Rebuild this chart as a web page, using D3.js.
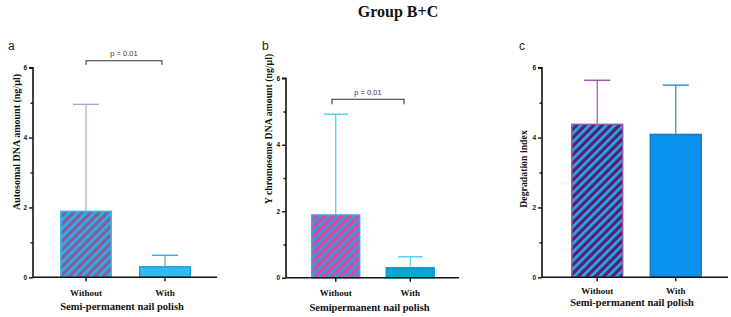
<!DOCTYPE html>
<html><head><meta charset="utf-8">
<script src="https://cdn.jsdelivr.net/npm/d3@7"></script>
<style>body{margin:0;background:#fff;}svg{display:block;}</style>
</head><body>
<svg id="c" width="731" height="317"></svg>
<script>
const categories = ["Without", "With"];
const autosomalMeans = [1.91, 0.32];
const autosomalSD = [4.95, 0.63];
const yChromMeans = [1.91, 0.32];
const yChromSD = [4.92, 0.63];
const degradationMeans = [4.40, 4.11];
const degradationSD = [5.64, 5.50];
const yTicks = [0, 2, 4, 6];
const pValues = ["p = 0.01", "p = 0.01", null];

const panels = [
  {letter:"a", means:autosomalMeans, tops:autosomalSD, ytitle:"Autosomal DNA amount (ng/µl)", xtitle:"Semi-permanent nail polish",
   x0:33, x1:217, yTop:67.7, yBot:277.3, bars:[[60,112],[139,191]], letterPos:[8,50], ytitleX:18, ytitleY:142, ytitleSize:10, xlabY:296, xtitleY:310,
   hatchBg:"#8c5b95", hatchFg:"#2bb0ec", hatchStroke:"#37b8f0", err0:"#b5a0cc", barFill:"#2fbcf5", barStroke:"#1e9ad8", err1:"#40a8e0",
   bracket:{x0:86, x1:162, y:60.7, drop:4, ty:56}},
  {letter:"b", means:yChromMeans, tops:yChromSD, ytitle:"Y chromosome DNA amount (ng/µl)", xtitle:"Semipermanent nail polish",
   x0:286, x1:459, yTop:78.3, yBot:277.7, bars:[[311,360],[385,435]], letterPos:[262,50], ytitleX:270, ytitleY:129, ytitleSize:9.8, xlabY:296, xtitleY:311,
   hatchBg:"#e8409e", hatchFg:"#2b9fe0", hatchStroke:"#30a8e0", err0:"#48cde6", barFill:"#04a6d2", barStroke:"#0a96c4", err1:"#5ad0e8",
   bracket:{x0:332, x1:404, y:99.3, drop:5, ty:95}},
  {letter:"c", means:degradationMeans, tops:degradationSD, ytitle:"Degradation index", xtitle:"Semi-permanent nail polish",
   x0:542, x1:728, yTop:67.7, yBot:277.3, bars:[[571,623],[649,702]], letterPos:[519,50], ytitleX:525, ytitleY:169, ytitleSize:9.8, xlabY:294, xtitleY:306,
   hatchBg:"#5a1f6c", hatchFg:"#22aaf0", hatchStroke:"#a050a8", err0:"#a056a8", barFill:"#0a92ee", barStroke:"#1878b8", err1:"#2a8cb8",
   bracket:null}
];

const svg = d3.select("#c");
const defs = svg.append("defs");

svg.append("text").attr("x", 398).attr("y", 17).attr("text-anchor","middle")
  .attr("font-family","Liberation Serif, Times New Roman, serif").attr("font-weight","bold").attr("font-size",16)
  .attr("fill","#111").text("Group B+C");

panels.forEach((p, i) => {
  const pat = defs.append("pattern").attr("id","h"+i).attr("patternUnits","userSpaceOnUse")
    .attr("width",6).attr("height",6).attr("patternTransform","rotate(45)");
  pat.append("rect").attr("width",6).attr("height",6).attr("fill",p.hatchBg);
  pat.append("rect").attr("x",0).attr("width",2.7).attr("height",6).attr("fill",p.hatchFg);

  const y = d3.scaleLinear().domain([0,6]).range([p.yBot, p.yTop]);
  const bandW = p.bars[0][1]-p.bars[0][0];
  const gap = p.bars[1][0]-p.bars[0][1];
  const x = d3.scaleBand().domain(categories)
    .range([p.bars[0][0] - gap/2, p.bars[1][1] + gap/2])
    .paddingInner(gap/(bandW+gap)).paddingOuter(gap/(bandW+gap)/2);

  const g = svg.append("g");

  categories.forEach((c, j) => {
    const cx = x(c) + x.bandwidth()/2;
    const col = j === 0 ? p.err0 : p.err1;
    const capW = x.bandwidth()/2;
    g.append("line").attr("x1",cx).attr("x2",cx).attr("y1",y(p.means[j])).attr("y2",y(p.tops[j]))
      .attr("stroke",col).attr("stroke-width",1.2);
    g.append("line").attr("x1",cx-capW/2).attr("x2",cx+capW/2).attr("y1",y(p.tops[j])).attr("y2",y(p.tops[j]))
      .attr("stroke",col).attr("stroke-width",1.4);
  });

  categories.forEach((c, j) => {
    g.append("rect").attr("x",x(c)+0.75).attr("y",y(p.means[j])+0.75)
      .attr("width",x.bandwidth()-1.5).attr("height",y(0)-y(p.means[j])-0.75)
      .attr("fill", j === 0 ? `url(#h${i})` : p.barFill)
      .attr("stroke", j === 0 ? p.hatchStroke : p.barStroke).attr("stroke-width",1.5);
  });

  const yAxis = d3.axisLeft(y).tickValues(d3.range(0,7,1)).tickSize(4)
    .tickFormat(d => yTicks.includes(d) ? d : "");
  const ya = g.append("g").attr("transform",`translate(${p.x0},0)`).call(yAxis);
  ya.select(".domain").attr("stroke","#111").attr("stroke-width",1.6).attr("d",`M-4,${p.yTop}H0V${p.yBot}`);
  ya.selectAll(".tick line").attr("stroke","#111").attr("stroke-width",1.4)
    .attr("x2", d => yTicks.includes(d) ? -4 : -2.5);
  ya.selectAll(".tick text").attr("font-family","Liberation Sans, Arial, sans-serif").attr("font-weight","bold")
    .attr("font-size",6.5).attr("fill","#111").attr("x",-6);

  const xAxis = d3.axisBottom(x).tickSize(4).tickFormat("");
  const xa = g.append("g").attr("transform",`translate(0,${p.yBot})`).call(xAxis);
  xa.select(".domain").attr("stroke","#111").attr("stroke-width",1.6).attr("d",`M${p.x0},0H${p.x1}`);
  xa.selectAll(".tick line").attr("stroke","#111").attr("stroke-width",1.4);

  categories.forEach(c => {
    g.append("text").attr("x", x(c)+x.bandwidth()/2).attr("y", p.xlabY).attr("text-anchor","middle")
      .attr("font-family","Liberation Serif, Times New Roman, serif").attr("font-weight","bold").attr("font-size",9)
      .attr("fill","#111").text(c);
  });
  g.append("text").attr("x", (p.x0+p.x1)/2 - 3).attr("y", p.xtitleY).attr("text-anchor","middle")
    .attr("font-family","Liberation Serif, Times New Roman, serif").attr("font-weight","bold").attr("font-size",10.5)
    .attr("fill","#111").text(p.xtitle);

  g.append("text").attr("transform",`translate(${p.ytitleX},${p.ytitleY}) rotate(-90)`).attr("text-anchor","middle")
    .attr("dominant-baseline","middle")
    .attr("font-family","Liberation Serif, Times New Roman, serif").attr("font-weight","bold").attr("font-size",p.ytitleSize)
    .attr("fill","#111").text(p.ytitle);

  g.append("text").attr("x",p.letterPos[0]).attr("y",p.letterPos[1])
    .attr("font-family","Liberation Sans, Arial, sans-serif").attr("font-size",12).attr("fill","#222").text(p.letter);

  if (p.bracket) {
    const b = p.bracket;
    g.append("path").attr("d",`M${b.x0},${b.y+b.drop}V${b.y}H${b.x1}V${b.y+b.drop}`)
      .attr("fill","none").attr("stroke","#333").attr("stroke-width",1.1);
    g.append("text").attr("x",(b.x0+b.x1)/2).attr("y",b.ty).attr("text-anchor","middle")
      .attr("font-family","Liberation Sans, Arial, sans-serif").attr("font-size",7.5).attr("fill","#333").text(pValues[i]);
  }
});
</script>
</body></html>
